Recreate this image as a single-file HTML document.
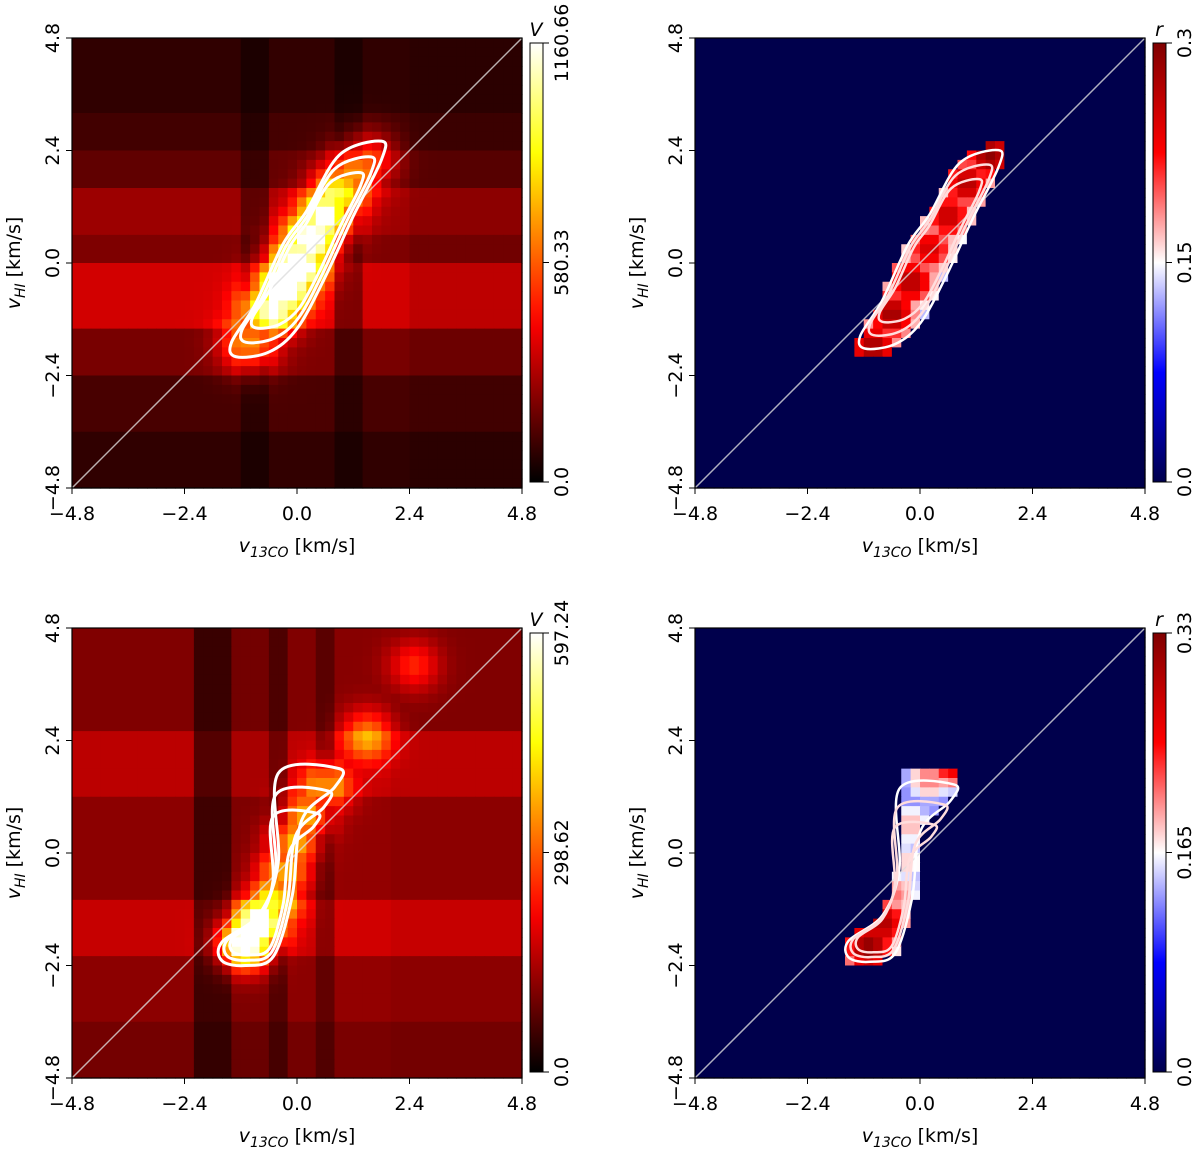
<!DOCTYPE html>
<html><head><meta charset="utf-8"><style>
body{margin:0;background:#fff;}
svg text{font-family:"DejaVu Sans","Liberation Sans",sans-serif;font-size:19px;fill:#000;}
</style></head><body>
<svg id="s" width="1200" height="1152" xmlns="http://www.w3.org/2000/svg"></svg>
<script>
// ---- data (velocities in km/s) ----
const ticks=[-4.8,-2.4,0.0,2.4,4.8];
const tickLabels=["−4.8","−2.4","0.0","2.4","4.8"];
// panel 1 (top-left) V map
const p1Rows=[[4.8,80],[3.2,110],[2.4,160],[1.6,260],[0.6,210],[0.0,350],[-1.4,200],[-2.4,120],[-3.6,80]];
const p1Cols=[[-4.8,1.0],[-1.3,0.6],[-0.6,1.05],[0.7,0.6],[1.3,1.0],[2.4,0.9]];
const p1Ridge=[[-1.0,-1.7,550],[-0.6,-1.0,900],[-0.3,-0.5,1100],[0.0,0.0,1100],[0.3,0.5,1050],[0.6,1.0,950],[0.9,1.5,800],[1.2,1.9,600],[1.5,2.2,400]];
const p1Max=1160.66;
const p1Contour=[[-1.3,-2.0],[-1.4,-1.7],[-0.9,-0.9],[-0.3,0.4],[0.2,1.1],[0.9,2.3],[1.8,2.6],[1.8,2.2],[1.2,1.0],[0.6,-0.3],[0.0,-1.4],[-0.6,-1.9],[-1.3,-2.0]];
const p1Center=[0.2,0.2];
// panel 3 (bottom-left) V map
const p3Rows=[[4.8,110],[2.6,160],[1.2,120],[-0.9,170],[-2.2,120],[-3.6,100]];
const p3Cols=[[-4.8,1.0],[-2.1,0.45],[-1.4,0.9],[-0.7,0.6],[-0.2,1.0],[0.3,0.7],[0.7,1.05],[2.0,1.0]];
const p3Ridge=[[-1.1,-1.9,560],[-0.8,-1.5,560],[-0.5,-1.0,380],[-0.3,-0.4,300],[-0.1,0.2,280],[0.2,0.8,260],[0.6,1.4,240],[1.5,2.5,220],[2.5,4.0,140]];
const p3Max=597.24;
const p3Contour=[[-1.6,-2.3],[-1.6,-1.9],[-0.8,-1.3],[-0.4,-0.2],[-0.4,1.7],[0.9,1.8],[0.8,1.4],[0.1,0.7],[-0.1,-0.9],[-0.5,-2.2],[-1.1,-2.4],[-1.6,-2.3]];
const p3Center=[-0.8,-1.6];
// right panels: correlation r
const p2Ridge=[[-1.0,-1.8,0.28],[-0.6,-1.1,0.28],[-0.2,-0.4,0.27],[0.2,0.3,0.25],[0.6,1.0,0.26],[1.0,1.7,0.27],[1.5,2.3,0.29]];
const p2Max=0.3;
const p4Ridge=[[-1.1,-2.0,0.32],[-0.8,-1.5,0.3],[-0.5,-0.9,0.21],[-0.3,-0.2,0.18],[-0.2,0.6,0.19],[0.2,1.6,0.21],[0.7,1.9,0.27]];
const p4Max=0.33;

const S=document.getElementById('s');const NS='http://www.w3.org/2000/svg';
function el(t,a,p){const e=document.createElementNS(NS,t);for(const k in a)e.setAttribute(k,a[k]);(p||S).appendChild(e);return e;}
const W=450;
function X(L,v){return L+(v+4.8)/9.6*W;} function Y(T,v){return T+(4.8-v)/9.6*W;}
function rowVal(arr,v){let r=arr[0][1];for(const a of arr){if(v<=a[0])r=a[1];}return r;}
function colVal(arr,v){let r=arr[0][1];for(const a of arr){if(v>=a[0])r=a[1];}return r;}
function ridge(R,x,y,sig){let m=0;for(const p of R){const d=((x-p[0])**2+(y-p[1])**2);m=Math.max(m,p[2]*Math.exp(-d/(2*sig*sig)));}return m;}
function hot(t){t=Math.max(0,Math.min(1,t));const r=Math.min(1,t/0.365),g=Math.max(0,Math.min(1,(t-0.365)/0.38)),b=Math.max(0,(t-0.746)/0.254);return `rgb(${r*255|0},${g*255|0},${b*255|0})`;}
function seis(t){t=Math.max(0,Math.min(1,t));let r,g,b;if(t<0.25){r=0;g=0;b=0.3+0.7*t/0.25;}else if(t<0.5){const u=(t-0.25)/0.25;r=u;g=u;b=1;}else if(t<0.75){const u=(t-0.5)/0.25;r=1;g=1-u;b=1-u;}else{const u=(t-0.75)/0.25;r=1-0.5*u;g=0;b=0;}return `rgb(${r*255|0},${g*255|0},${b*255|0})`;}
function inPoly(P,x,y){let c=false;for(let i=0,j=P.length-1;i<P.length;j=i++){const a=P[i],b=P[j];if((a[1]>y)!=(b[1]>y)&&x<(b[0]-a[0])*(y-a[1])/(b[1]-a[1])+a[0])c=!c;}return c;}
function scaled(P,c,f){return P.map(p=>[c[0]+(p[0]-c[0])*f,c[1]+(p[1]-c[1])*f]);}
function smoothPath(L,T,P){const pts=P.slice(0,-1).map(p=>[X(L,p[0]),Y(T,p[1])]);const n=pts.length;let d='';
  for(let i=0;i<n;i++){const p0=pts[(i-1+n)%n],p1=pts[i],p2=pts[(i+1)%n],p3=pts[(i+2)%n];
    if(i===0)d+=`M${p1[0]},${p1[1]}`;
    const c1=[p1[0]+(p2[0]-p0[0])/6,p1[1]+(p2[1]-p0[1])/6],c2=[p2[0]-(p3[0]-p1[0])/6,p2[1]-(p3[1]-p1[1])/6];
    d+=`C${c1[0]},${c1[1]} ${c2[0]},${c2[1]} ${p2[0]},${p2[1]}`;}
  return d+'Z';}

const N=48,st=9.6/N;
function panel(L,T,name,kind,cfg){
  const g=el('g',{});
  
  
  for(let i=0;i<N;i++)for(let j=0;j<N;j++){
    const vx=-4.8+(j+0.5)*st,vy=4.8-(i+0.5)*st;let col;
    if(kind==='V'){const v=rowVal(cfg.rows,vy)*colVal(cfg.cols,vx)+ridge(cfg.ridge,vx,vy,cfg.sig);col=hot(v/cfg.max);}
    else{ if(inPoly(cfg.mask,vx,vy)){const r=Math.max(0.13,ridge(cfg.ridge,vx,vy,0.55));col=seis(r/cfg.max);}else col=seis(0);}
    const r=el('rect',{x:X(L,vx)-W/N/2,y:Y(T,vy)-W/N/2,width:W/N+0.6,height:W/N+0.6,fill:col},g);
    
    
  }
  const d=el('line',{x1:L,y1:T+W,x2:L+W,y2:T,stroke:'#ddd','stroke-width':1.5,opacity:0.8});
  
  
  if(cfg.contour){[1,0.86,0.72].forEach((f,k)=>{const P=scaled(cfg.contour,cfg.center,f);
    const c=el('path',{d:smoothPath(L,T,P),fill:'none',stroke:kind==='V'?'#fff':(k==0?'#fff':'#fdd'),'stroke-width':kind==='V'?3:2.5,'stroke-linejoin':'round'});
    
    });}
  const f=el('rect',{x:L,y:T,width:W,height:W,fill:'none',stroke:'#000','stroke-width':1.2});
  
  
  ticks.forEach((t,k)=>{
    el('line',{x1:X(L,t),y1:T+W,x2:X(L,t),y2:T+W+6,stroke:'#000'});
    el('line',{x1:L-6,y1:Y(T,t),x2:L,y2:Y(T,t),stroke:'#000'});
    const xt=el('text',{x:X(L,t),y:T+W+32,'text-anchor':'middle'});xt.textContent=tickLabels[k];
    
    
    const yt=el('text',{x:0,y:0,'text-anchor':'middle',transform:`translate(${L-13},${Y(T,t)}) rotate(-90)`});yt.textContent=tickLabels[k];
    
    
  });
  const xl=el('text',{x:L+W/2,y:T+W+64,'text-anchor':'middle'});
  xl.innerHTML='<tspan font-style="italic">v</tspan><tspan font-size="14" dy="5" font-style="italic">13CO</tspan><tspan dy="-5"> [km/s]</tspan>';
  
  
  const yl=el('text',{x:0,y:0,'text-anchor':'middle',transform:`translate(${L-52},${T+W/2}) rotate(-90)`});
  yl.innerHTML='<tspan font-style="italic">v</tspan><tspan font-size="14" dy="5" font-style="italic">HI</tspan><tspan dy="-5"> [km/s]</tspan>';
  
  
  const cx=L+458,cy=T+5,ch=439;const gid='g'+name;
  const lg=el('linearGradient',{id:gid,x1:0,y1:1,x2:0,y2:0});
  for(let k=0;k<=20;k++)el('stop',{offset:k/20,'stop-color':kind==='V'?hot(k/20):seis(k/20)},lg);
  const cb=el('rect',{x:cx,y:cy,width:13,height:ch,fill:`url(#${gid})`,stroke:'#000','stroke-width':1});
  
  
  cfg.cbl.forEach((s,k)=>{const yy=cy+ch-k*ch/2;el('line',{x1:cx+13,y1:yy,x2:cx+19,y2:yy,stroke:'#000'});
    const t=el('text',{x:0,y:0,'text-anchor':'middle',transform:`translate(${cx+38},${yy}) rotate(-90)`});t.textContent=s;
    
    });
  const cl=el('text',{x:cx+6,y:T-2,'text-anchor':'middle','font-style':'italic','font-size':22});cl.textContent=kind;
  
  
}
panel(72,38,'v-top','V',{rows:p1Rows,cols:p1Cols,ridge:p1Ridge,max:p1Max,sig:0.42,contour:p1Contour,center:p1Center,cbl:['0.0','580.33','1160.66']});
panel(695,38,'r-top','r',{mask:p1Contour,ridge:p2Ridge,max:p2Max,contour:scaled(p1Contour,p1Center,0.92),center:p1Center,cbl:['0.0','0.15','0.3']});
panel(72,628,'v-bottom','V',{rows:p3Rows,cols:p3Cols,ridge:p3Ridge,max:p3Max,sig:0.38,contour:p3Contour,center:p3Center,cbl:['0.0','298.62','597.24']});
panel(695,628,'r-bottom','r',{mask:p3Contour,ridge:p4Ridge,max:p4Max,contour:scaled(p3Contour,p3Center,0.9),center:p3Center,cbl:['0.0','0.165','0.33']});
</script>
</body></html>
